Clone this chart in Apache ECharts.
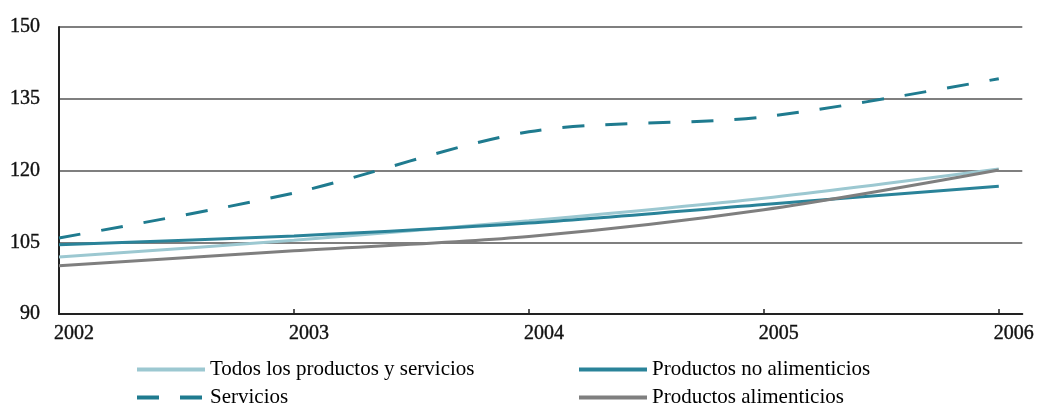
<!DOCTYPE html>
<html><head><meta charset="utf-8">
<script src="https://cdn.jsdelivr.net/npm/echarts@6/dist/echarts.min.js"></script>
<style>html,body{margin:0;padding:0;background:#fff}#c{width:1037px;height:403px}</style>
</head><body><div id="c"></div>
<script>
const years = [2002, 2003, 2004, 2005, 2006];
const yTicks = [90, 105, 120, 135, 150];
const todos = [101.9, 105.4, 109.5, 114.2, 120.3];
const servicios = [105.9, 115.3, 128.1, 131.2, 139.2];
const noAlim = [104.5, 106.3, 109.0, 112.9, 116.7];
const alim = [100.1, 103.2, 106.2, 111.8, 120.1];
const names = ['Todos los productos y servicios', 'Servicios', 'Productos no alimenticios', 'Productos alimenticios'];

const pairs = arr => years.map((y, i) => [y, arr[i]]);
const font = 'Liberation Serif, Times New Roman, serif';
function line(name, data, color, type) {
  return {
    name, type: 'line', data: pairs(data), smooth: 0.3, symbol: 'none',
    lineStyle: { color, width: 3, type: type || 'solid', cap: 'butt' },
    itemStyle: { color }
  };
}
const legendBase = {
  orient: 'vertical', padding: 0, itemHeight: 14, itemGap: 7, itemWidth: 68, height: 120,
  itemStyle: { color: 'rgba(0,0,0,0)', borderWidth: 0, borderColor: 'rgba(0,0,0,0)', opacity: 0 },
  lineStyle: { width: 4 },
  textStyle: { fontFamily: font, fontSize: 21, color: '#000', lineHeight: 20 }
};
const chart = echarts.init(document.getElementById('c'), null, { renderer: 'canvas' });
chart.setOption({
  animation: false,
  grid: { left: 59, top: 27, right: 11, bottom: 89 },
  xAxis: {
    type: 'value', min: years[0], max: years[years.length - 1] + 0.1, interval: 1,
    axisLine: { lineStyle: { color: '#222', width: 2 } },
    axisTick: { inside: true, length: 5, customValues: years, lineStyle: { color: '#222', width: 1.5 } },
    splitLine: { show: false },
    axisLabel: { color: '#111', fontFamily: font, fontSize: 20, margin: 10, customValues: years,
      padding: [0, 0, 0, 30], textBorderColor: '#111', textBorderWidth: 0.4,
      formatter: v => String(v) }
  },
  yAxis: {
    type: 'value', min: yTicks[0], max: yTicks[yTicks.length - 1], interval: 15,
    axisLine: { show: true, lineStyle: { color: '#222', width: 2 } },
    axisTick: { show: false },
    splitLine: { lineStyle: { color: '#555', width: 1.5 } },
    axisLabel: { color: '#111', fontFamily: font, fontSize: 20, margin: 19,
      textBorderColor: '#111', textBorderWidth: 0.4 }
  },
  legend: [
    Object.assign({}, legendBase, { left: 135, top: 359, data: [names[0], names[1]] }),
    Object.assign({}, legendBase, { left: 577, top: 359, data: [names[2], names[3]] })
  ],
  series: [
    line(names[0], todos, '#9cc8d1'),
    line(names[1], servicios, '#1f7b8f', [22, 21]),
    line(names[2], noAlim, '#2a8399'),
    line(names[3], alim, '#7f7f7f')
  ]
});
</script></body></html>
